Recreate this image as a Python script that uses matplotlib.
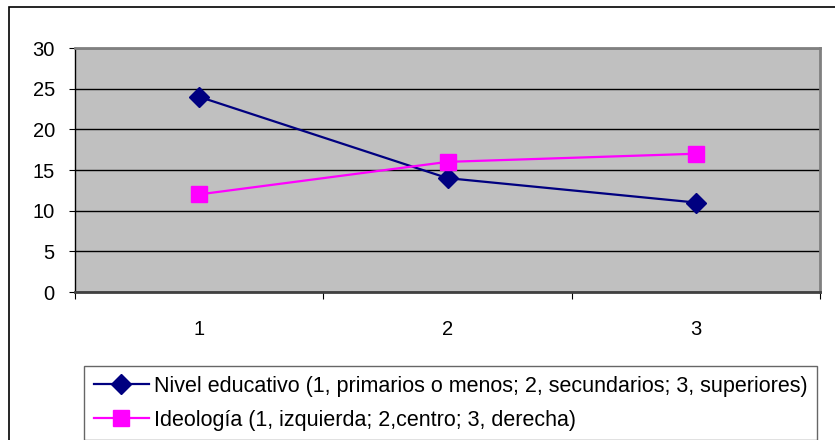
import matplotlib
matplotlib.use('Agg')
import matplotlib.pyplot as plt
from matplotlib.patches import Rectangle

plt.rcParams['font.family'] = ['Liberation Sans', 'DejaVu Sans']

categorias = [1, 2, 3]
nivel_educativo = [24, 14, 11]
ideologia = [12, 16, 17]
etiquetas = ['Nivel educativo (1, primarios o menos; 2, secundarios; 3, superiores)',
             'Ideología (1, izquierda; 2,centro; 3, derecha)']
y_ticks = [0, 5, 10, 15, 20, 25, 30]

fig = plt.figure(figsize=(8.35, 4.4), dpi=100)

# marco exterior del grafico
fig.patches.append(Rectangle((9 / 835, -0.1), 1.0, 1.1 - 7 / 440, transform=fig.transFigure,
                             fill=False, edgecolor='black', linewidth=1.2))

ax = fig.add_axes([75 / 835, 1 - 292 / 440, 745 / 835, 244 / 440])
ax.set_facecolor('#c0c0c0')

ax.plot(categorias, nivel_educativo, color='#000080', marker='D', markersize=10,
        linewidth=1.6, label=etiquetas[0], zorder=3)
ax.plot(categorias, ideologia, color='#ff00ff', marker='s', markersize=11,
        linewidth=1.6, label=etiquetas[1], zorder=3)

ax.set_xlim(0.5, 3.5)
ax.set_ylim(0, 30)
ax.set_yticks(y_ticks)
ax.yaxis.grid(True, color='black', linewidth=1.0)
ax.set_axisbelow(True)

# marcas del eje x entre categorias, etiquetas centradas
ax.set_xticks([0.5, 1.5, 2.5, 3.5])
ax.set_xticklabels([])
ax.set_xticks(categorias, minor=True)
ax.set_xticklabels([str(c) for c in categorias], minor=True)
ax.tick_params(axis='x', which='minor', length=0, pad=20, labelsize=14.5)
ax.tick_params(axis='x', which='major', length=5, color='black', direction='out')
ax.tick_params(axis='y', length=4.5, labelsize=14.5, direction='out', pad=10)

ax.spines['left'].set_color('black')
ax.spines['left'].set_linewidth(1.0)
ax.spines['bottom'].set_color('#404040')
ax.spines['bottom'].set_linewidth(2.0)
for s in ['top', 'right']:
    ax.spines[s].set_color('#808080')
    ax.spines[s].set_linewidth(2.0)

leg = fig.legend(loc='upper left', bbox_to_anchor=(84 / 835, 1 - 366 / 440),
                 fontsize=15.5, frameon=True, fancybox=False, edgecolor='#404040',
                 handlelength=2.55, handletextpad=0.25, borderpad=0.45,
                 labelspacing=0.6, borderaxespad=0)
leg.get_frame().set_linewidth(1.0)

fig.savefig('out.png', dpi=100)
